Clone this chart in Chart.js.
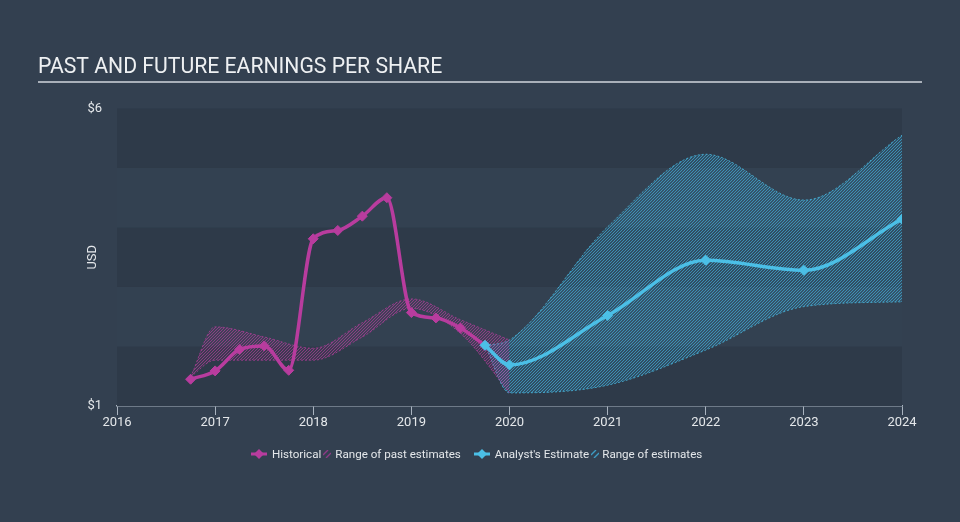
<!DOCTYPE html>
<html>
<head>
<meta charset="utf-8">
<script src="https://cdn.jsdelivr.net/npm/chart.js@4.4.0/dist/chart.umd.min.js"></script>
<style>
  body { margin: 0; background: #334050; }
  #wrap { position: relative; width: 960px; height: 522px; background: #334050; }
  #legend { position: absolute; left: 251px; top: 446px; height: 16px; display: flex; align-items: center;
            font: 11.6px Roboto, sans-serif; color: #e4e7ea; white-space: nowrap; }
  #legend svg { display: block; }
</style>
</head>
<body>
<div id="wrap">
  <canvas id="myChart" width="960" height="522"></canvas>
  <div id="legend">
    <svg width="16" height="10"><line x1="0" y1="5" x2="16" y2="5" stroke="#b83c9e" stroke-width="3"/><path d="M8 0 L13 5 L8 10 L3 5 Z" fill="#b83c9e"/></svg>
    <span style="margin-left:5px">Historical</span>
    <svg width="8" height="8" style="margin-left:2px"><path d="M0 5 L5 0 M3 8 L8 3" stroke="#8e3a86" stroke-width="1.4"/></svg>
    <span style="margin-left:4px">Range of past estimates</span>
    <svg width="16" height="10" style="margin-left:13px"><line x1="0" y1="5" x2="16" y2="5" stroke="#4bbfe6" stroke-width="3"/><path d="M8 0 L13 5 L8 10 L3 5 Z" fill="#4bbfe6"/></svg>
    <span style="margin-left:5px">Analyst's Estimate</span>
    <svg width="8" height="8" style="margin-left:2px"><path d="M0 5 L5 0 M3 8 L8 3" stroke="#3d9cc4" stroke-width="1.4"/></svg>
    <span style="margin-left:3px">Range of estimates</span>
  </div>
</div>
<script>
// historical EPS, quarterly
var histDates = [2016.75, 2017, 2017.25, 2017.5, 2017.75, 2018, 2018.25, 2018.5, 2018.75, 2019, 2019.25, 2019.5, 2019.75];
var histEps   = [1.45, 1.59, 1.95, 2.01, 1.60, 3.81, 3.95, 4.19, 4.50, 2.57, 2.48, 2.31, 2.02];

// past analyst estimate range
var pastDates = [2016.75, 2017, 2017.5, 2018, 2018.5, 2019, 2019.5, 2020];
var pastHigh  = [1.49, 2.33, 2.16, 1.97, 2.40, 2.80, 2.45, 2.11];
var pastLow   = [1.49, 1.77, 1.77, 1.77, 2.16, 2.64, 2.22, 1.22];

// analyst estimates going forward
var estDates = [2019.75, 2020, 2021, 2022, 2023, 2024];
var estEps   = [2.02, 1.69, 2.52, 3.45, 3.28, 4.14];
var estHigh  = [2.02, 2.11, 4.01, 5.23, 4.46, 5.55];
var estLow   = [2.02, 1.22, 1.35, 1.94, 2.67, 2.75];

var yearTicks = [2016, 2017, 2018, 2019, 2020, 2021, 2022, 2023, 2024];
var yTicks = [1, 6];

var pts = function (xs, ys) {
  return xs.map(function (x, i) { return {x: x, y: ys[i]}; });
};

// diagonal hatch pattern
var hatch = function (base, stripe) {
  var c = document.createElement('canvas');
  c.width = 3; c.height = 3;
  var g = c.getContext('2d');
  g.fillStyle = base;
  g.fillRect(0, 0, 3, 3);
  g.fillStyle = stripe;
  g.fillRect(0, 2, 1, 1);
  g.fillRect(1, 1, 1, 1);
  g.fillRect(2, 0, 1, 1);
  return g.createPattern(c, 'repeat');
};

var magenta = '#b83c9e';
var blue = '#4bbfe6';

Chart.defaults.font.family = 'Roboto';

// striped plot background + title underline
var decor = {
  id: 'decor',
  beforeDatasetsDraw: function (chart) {
    var ctx = chart.ctx, a = chart.chartArea, y = chart.scales.y;
    ctx.save();
    for (var v = 1; v < 6; v++) {
      var top = y.getPixelForValue(v + 1), bot = y.getPixelForValue(v);
      ctx.fillStyle = (v % 2 === 1) ? '#2e3a49' : '#334151';
      ctx.fillRect(a.left, top, a.right - a.left, bot - top);
    }
    ctx.restore();
  },
  afterDraw: function (chart) {
    var ctx = chart.ctx;
    ctx.save();
    ctx.fillStyle = '#a9b0b9';
    ctx.fillRect(38, 81, 884, 2);
    ctx.restore();
  }
};

var config = {
  type: 'line',
  data: {
    datasets: [
      {
        label: "Analyst's Estimate",
        data: pts(estDates, estEps),
        borderColor: blue, backgroundColor: blue,
        borderWidth: 3.5, pointStyle: 'rectRot', pointRadius: 5, pointBorderWidth: 1,
        cubicInterpolationMode: 'monotone', fill: false
      },
      {
        label: 'Historical',
        data: pts(histDates, histEps),
        borderColor: magenta, backgroundColor: magenta,
        borderWidth: 3.5, pointStyle: 'rectRot', pointRadius: 5, pointBorderWidth: 1,
        cubicInterpolationMode: 'monotone', fill: false
      },
      {
        label: 'Range of past estimates',
        data: pts(pastDates, pastHigh),
        borderColor: 'rgba(184,60,158,0.7)', borderWidth: 1, borderDash: [2, 2],
        backgroundColor: hatch('rgba(184,60,158,0.10)', 'rgba(190,62,162,0.6)'),
        pointRadius: 0, cubicInterpolationMode: 'monotone', fill: '+1'
      },
      {
        label: 'past low',
        data: pts(pastDates, pastLow),
        borderColor: 'rgba(184,60,158,0.7)', borderWidth: 1, borderDash: [2, 2],
        pointRadius: 0, cubicInterpolationMode: 'monotone', fill: false
      },
      {
        label: 'Range of estimates',
        data: pts(estDates, estHigh),
        borderColor: 'rgba(75,191,230,0.75)', borderWidth: 1, borderDash: [2, 2],
        backgroundColor: hatch('rgba(60,170,220,0.18)', 'rgba(70,185,230,0.6)'),
        pointRadius: 0, cubicInterpolationMode: 'monotone', fill: '+1'
      },
      {
        label: 'est low',
        data: pts(estDates, estLow),
        borderColor: 'rgba(75,191,230,0.75)', borderWidth: 1, borderDash: [2, 2],
        pointRadius: 0, cubicInterpolationMode: 'monotone', fill: false
      }
    ]
  },
  options: {
    responsive: false,
    animation: false,
    layout: { padding: { left: 38, right: 58, top: 0, bottom: 86 } },
    scales: {
      x: {
        type: 'linear', min: 2016, max: 2024,
        afterBuildTicks: function (s) { s.ticks = yearTicks.map(function (v) { return {value: v}; }); },
        afterFit: function (s) { s.height = 30; },
        grid: { display: true, drawOnChartArea: false, drawTicks: true, tickLength: 9, color: '#a9b3bf' },
        border: { display: true, color: '#a9b3bf', width: 1.5 },
        ticks: { color: '#e4e7ea', font: { size: 13 }, padding: 0, maxRotation: 0,
                 callback: function (v) { return String(v); } }
      },
      y: {
        min: 1, max: 6,
        afterBuildTicks: function (s) { s.ticks = yTicks.map(function (v) { return {value: v}; }); },
        afterFit: function (s) { s.width = 79; },
        grid: { display: false, drawTicks: false },
        border: { display: false },
        ticks: { color: '#e4e7ea', font: { size: 13 }, padding: 15,
                 callback: function (v) { return '$' + v; } },
        title: { display: true, text: 'USD', color: '#e4e7ea', font: { size: 13 }, padding: { top: 47, bottom: 0 } }
      }
    },
    plugins: {
      legend: { display: false },
      tooltip: { enabled: false },
      title: {
        display: true, align: 'start', text: 'PAST AND FUTURE EARNINGS PER SHARE',
        color: '#eef0f2', font: { size: 21.2, weight: 'normal' },
        padding: { top: 55, bottom: 28 }
      }
    }
  },
  plugins: [decor]
};

var ctx = document.getElementById('myChart').getContext('2d');
window.myChart = new Chart(ctx, config);
</script>
</body>
</html>
